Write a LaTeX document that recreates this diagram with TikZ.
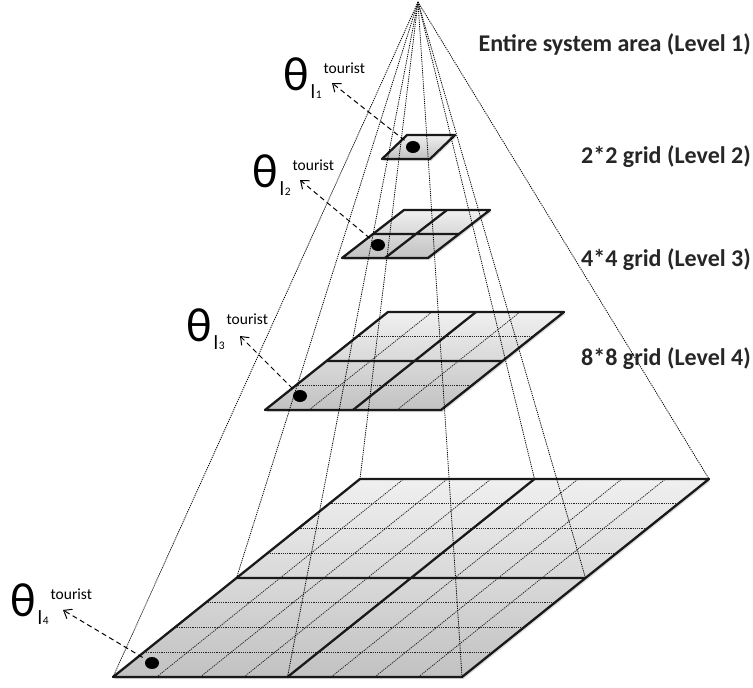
\documentclass[tikz,border=0pt]{standalone}
\usepackage{fontspec}
\setmainfont{Carlito}
\usetikzlibrary{arrows.meta,shapes.geometric}

\tikzset{
  plane/.style={top color=gray!12, bottom color=gray!48, draw=none},
  shadowfill/.style={fill=black!30, opacity=0.45},
  edge/.style={line width=2.3pt, line join=round, draw=black!90},
  fine/.style={line width=0.8pt, dash pattern=on 1.2pt off 1pt, draw=black!85},
  ray/.style={line width=0.8pt, dash pattern=on 1.2pt off 1pt},
  pointer/.style={line width=1pt, dash pattern=on 5pt off 3.5pt, shorten <=4pt,
    -{Straight Barb[length=7pt,width=11pt,line width=1pt]}},
  user/.style={ellipse, fill=black, minimum width=14pt, minimum height=12pt, inner sep=0pt},
  thlabel/.style={anchor=base west, inner sep=0pt},
  levelname/.style={anchor=base east, inner sep=0pt, text=black!85,
    font=\fontsize{24}{27}\selectfont\bfseries}
}

% theta with level subscript and "tourist" superscript
\newcommand{\thetalbl}[1]{{\fontsize{48}{48}\selectfont θ}\hspace{2pt}%
  \raisebox{-8pt}{\fontsize{20}{20}\selectfont l\hspace{0.5pt}\fontsize{11.5}{12}\selectfont #1}\hspace{2pt}%
  \raisebox{17pt}{\fontsize{15.5}{16}\selectfont tourist}}

\begin{document}
\begin{tikzpicture}[x=1pt, y=-1pt]
  \useasboundingbox (0,0) rectangle (753,688);

  % Level 4 plane (8*8 grid)
  \begin{scope}[shift={(113,677)}, x={(349pt,0pt)}, y={(247pt,198pt)}]
    \fill[shadowfill, shift={(1.5pt,-2pt)}] (0,0) -- (1,0) -- (1,1) -- (0,1) -- cycle;
    \shade[plane] (0,0) -- (1,0) -- (1,1) -- (0,1) -- cycle;
    \foreach \k in {1,2,3,5,6,7} {
      \draw[fine] (\k/8,0) -- (\k/8,1);
      \draw[fine] (0,\k/8) -- (1,\k/8);
    }
    \draw[edge] (0,0) -- (1,0) -- (1,1) -- (0,1) -- cycle;
    \draw[edge] (0.5,0) -- (0.5,1) (0,0.5) -- (1,0.5);
    \coordinate (L4bl) at (0,0);
    \coordinate (L4bm) at (0.5,0);
    \coordinate (L4br) at (1,0);
    \coordinate (L4lm) at (0,0.5);
    \coordinate (L4rm) at (1,0.5);
    \coordinate (L4tl) at (0,1);
    \coordinate (L4tm) at (0.5,1);
    \coordinate (L4tr) at (1,1);
  \end{scope}

  % Level 3 plane (4*4 grid)
  \begin{scope}[shift={(265,410)}, x={(176pt,0pt)}, y={(123pt,98pt)}]
    \fill[shadowfill, shift={(1.5pt,-2pt)}] (0,0) -- (1,0) -- (1,1) -- (0,1) -- cycle;
    \shade[plane] (0,0) -- (1,0) -- (1,1) -- (0,1) -- cycle;
    \foreach \k in {1,3} {
      \draw[fine] (\k/4,0) -- (\k/4,1);
      \draw[fine] (0,\k/4) -- (1,\k/4);
    }
    \draw[edge] (0,0) -- (1,0) -- (1,1) -- (0,1) -- cycle;
    \draw[edge] (0.5,0) -- (0.5,1) (0,0.5) -- (1,0.5);
  \end{scope}

  % Level 2 plane (2*2 grid)
  \begin{scope}[shift={(342,258)}, x={(86pt,0pt)}, y={(62pt,48pt)}]
    \fill[shadowfill, shift={(1.5pt,-2pt)}] (0,0) -- (1,0) -- (1,1) -- (0,1) -- cycle;
    \shade[plane] (0,0) -- (1,0) -- (1,1) -- (0,1) -- cycle;
    \draw[edge] (0,0) -- (1,0) -- (1,1) -- (0,1) -- cycle;
    \draw[edge] (0.5,0) -- (0.5,1) (0,0.5) -- (1,0.5);
  \end{scope}

  % Level 1 plane (entire area)
  \begin{scope}[shift={(382,159)}, x={(48pt,0pt)}, y={(25pt,24pt)}]
    \fill[shadowfill, shift={(1.5pt,-2pt)}] (0,0) -- (1,0) -- (1,1) -- (0,1) -- cycle;
    \shade[plane] (0,0) -- (1,0) -- (1,1) -- (0,1) -- cycle;
    \draw[edge] (0,0) -- (1,0) -- (1,1) -- (0,1) -- cycle;
  \end{scope}

  % Pyramid rays
  \coordinate (apex) at (418,2);
  \foreach \c in {L4bl,L4bm,L4br,L4lm,L4rm,L4tl,L4tm,L4tr}
    \draw[ray] (apex) -- (\c);

  % Tourist positions
  \node[user] (dot1) at (413,147) {};
  \node[user] (dot2) at (378,245) {};
  \node[user] (dot3) at (300,396) {};
  \node[user] (dot4) at (152,663) {};

  % Theta labels
  \node[thlabel] (th1) at (283,90) {\thetalbl{1}};
  \node[thlabel] (th2) at (252,187) {\thetalbl{2}};
  \node[thlabel] (th3) at (186,341) {\thetalbl{3}};
  \node[thlabel] (th4) at (10,616) {\thetalbl{4}};

  \coordinate (tip1) at (332,83);
  \coordinate (tip2) at (300,180);
  \coordinate (tip3) at (240,336);
  \coordinate (tip4) at (63,610);
  \draw[pointer] (dot1) -- (tip1);
  \draw[pointer] (dot2) -- (tip2);
  \draw[pointer] (dot3) -- (tip3);
  \draw[pointer] (dot4) -- (tip4);

  % Level names
  \node[levelname] (name1) at (751,51) {Entire system area (Level 1)};
  \node[levelname] (name2) at (751,163) {2*2 grid (Level 2)};
  \node[levelname] (name3) at (751,266) {4*4 grid (Level 3)};
  \node[levelname] (name4) at (751,365) {8*8 grid (Level 4)};
\end{tikzpicture}
\end{document}
